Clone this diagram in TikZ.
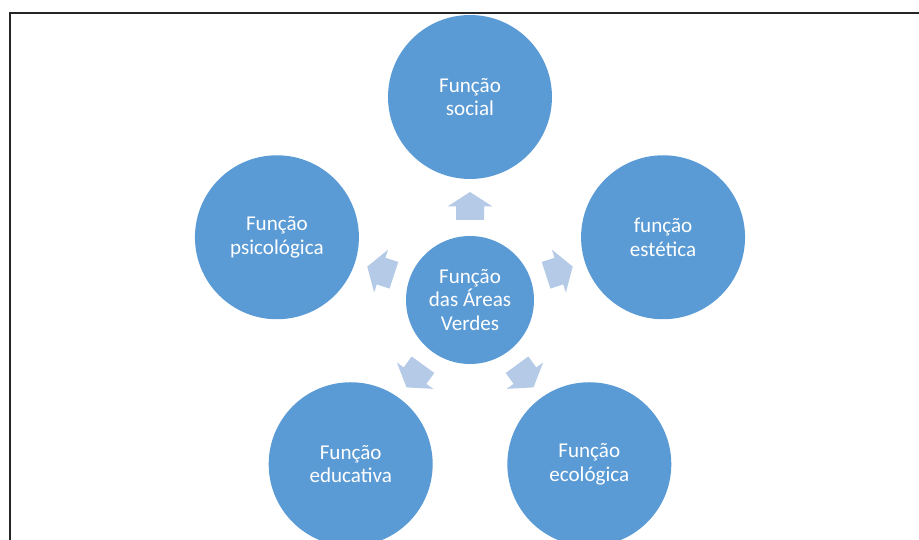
\documentclass[tikz,border=0pt]{standalone}
\usepackage{fontspec}
\setmainfont{Carlito}

\definecolor{circleblue}{RGB}{91,155,213}
\definecolor{arrowblue}{RGB}{180,202,231}

\begin{document}
\begin{tikzpicture}[x=0.02cm, y=0.02cm,
  funcao/.style={circle, fill=circleblue, text=white, align=center, inner sep=0pt,
    minimum size=3.28cm, font=\fontsize{12}{13.3}\selectfont},
  centro/.style={funcao, minimum size=2.56cm},
  seta/.style={fill=arrowblue}]

\useasboundingbox (-470,-240) rectangle (449,300);

% moldura
\draw[line width=1pt, color=black!85] (-460,-240) -- (-460,287) -- (449,287);

\node[centro] (areas) at (0,0) {Função\\das Áreas\\Verdes};

\node[funcao] (social) at (90:203) {Função\\social};
\node[funcao] (estetica) at (18:203) {função\\estética};
\node[funcao] (ecologica) at (-54:203) {Função\\ecológica};
\node[funcao] (educativa) at (234:203) {Função\\educativa};
\node[funcao] (psicologica) at (162:203) {Função\\psicológica};

\fill[seta, rotate=90] (80,-14) -- (93.5,-14) -- (93.5,-22.5) -- (108,0) -- (93.5,22.5) -- (93.5,14) -- (80,14) -- cycle;
\fill[seta, rotate=18] (80,-14) -- (93.5,-14) -- (93.5,-22.5) -- (108,0) -- (93.5,22.5) -- (93.5,14) -- (80,14) -- cycle;
\fill[seta, rotate=-54] (80,-14) -- (93.5,-14) -- (93.5,-22.5) -- (108,0) -- (93.5,22.5) -- (93.5,14) -- (80,14) -- cycle;
\fill[seta, rotate=234] (80,-14) -- (93.5,-14) -- (93.5,-22.5) -- (108,0) -- (93.5,22.5) -- (93.5,14) -- (80,14) -- cycle;
\fill[seta, rotate=162] (80,-14) -- (93.5,-14) -- (93.5,-22.5) -- (108,0) -- (93.5,22.5) -- (93.5,14) -- (80,14) -- cycle;

\end{tikzpicture}
\end{document}
